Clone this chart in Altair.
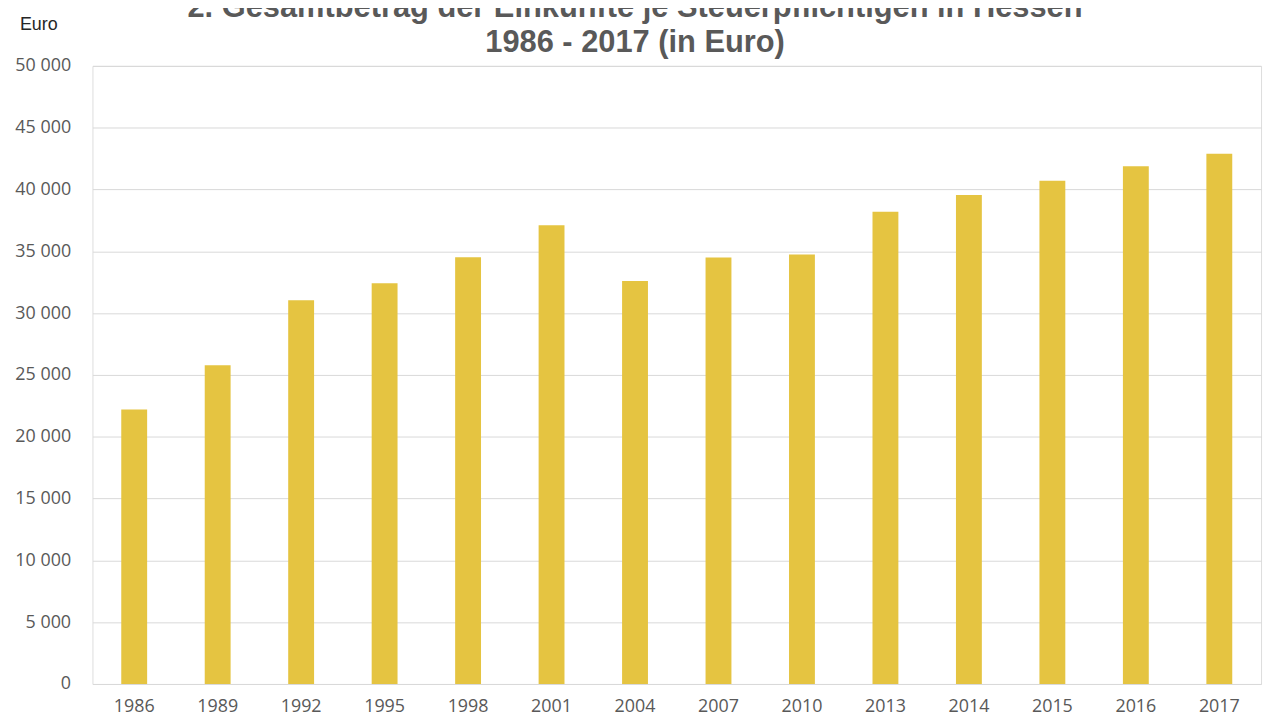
import altair as alt
import pandas as pd

years = ["1986", "1989", "1992", "1995", "1998", "2001", "2004",
         "2007", "2010", "2013", "2014", "2015", "2016", "2017"]
values = [22200, 25780, 31050, 32420, 34520, 37100, 32600,
          34500, 34740, 38200, 39550, 40700, 41880, 42900]

title_lines = ["2. Gesamtbetrag der Einkünfte je Steuerpflichtigen in Hessen",
               "1986 - 2017 (in Euro)"]
unit_label = ["Euro"]
y_ticks = [0, 5000, 10000, 15000, 20000, 25000, 30000, 35000, 40000, 45000, 50000]

df = pd.DataFrame({"Jahr": years, "Wert": values})

W, H = 1176, 622
GREY = "#595959"

bars = alt.Chart(df).mark_bar(color="#E5C441").encode(
    x=alt.X("Jahr:N", sort=years, title=None,
            scale=alt.Scale(paddingInner=0.69, paddingOuter=0.345),
            axis=alt.Axis(labelAngle=0, ticks=False, domain=False, grid=False,
                          labelFont="Open Sans", labelFontSize=18, labelColor=GREY,
                          labelPadding=14)),
    y=alt.Y("Wert:Q", title=None,
            scale=alt.Scale(domain=[0, 50000], nice=False),
            axis=alt.Axis(values=y_ticks, ticks=False, domain=False, grid=True,
                          gridColor="#d9d9d9", gridWidth=1,
                          labelFont="Open Sans", labelFontSize=18, labelColor=GREY,
                          labelPadding=22,
                          labelExpr="replace(format(datum.value, ','), ',', ' ')")),
)

t1 = alt.Chart(pd.DataFrame({"t": [title_lines[0]]})).mark_text(
    font="Liberation Sans", fontSize=31, fontWeight="bold", color=GREY,
    align="center", baseline="alphabetic"
).encode(text="t:N", x=alt.value(546), y=alt.value(-49))

t2 = alt.Chart(pd.DataFrame({"t": [title_lines[1]]})).mark_text(
    font="Liberation Sans", fontSize=31, fontWeight="bold", color=GREY,
    align="center", baseline="alphabetic"
).encode(text="t:N", x=alt.value(546), y=alt.value(-14))

unit = alt.Chart(pd.DataFrame({"t": unit_label})).mark_text(
    font="Liberation Sans", fontSize=18, color="#262626",
    align="left", baseline="alphabetic"
).encode(text="t:N", x=alt.value(-73), y=alt.value(-36))

chart = alt.layer(bars, t1, t2, unit).properties(
    width=W, height=H,
    autosize=alt.AutoSizeParams(type="none"),
    padding={"left": 85, "top": 56, "right": 8, "bottom": 33},
).configure_view(stroke=None).configure(background="white")

chart.save("out.html", embed_options={"renderer": "svg", "actions": False})
